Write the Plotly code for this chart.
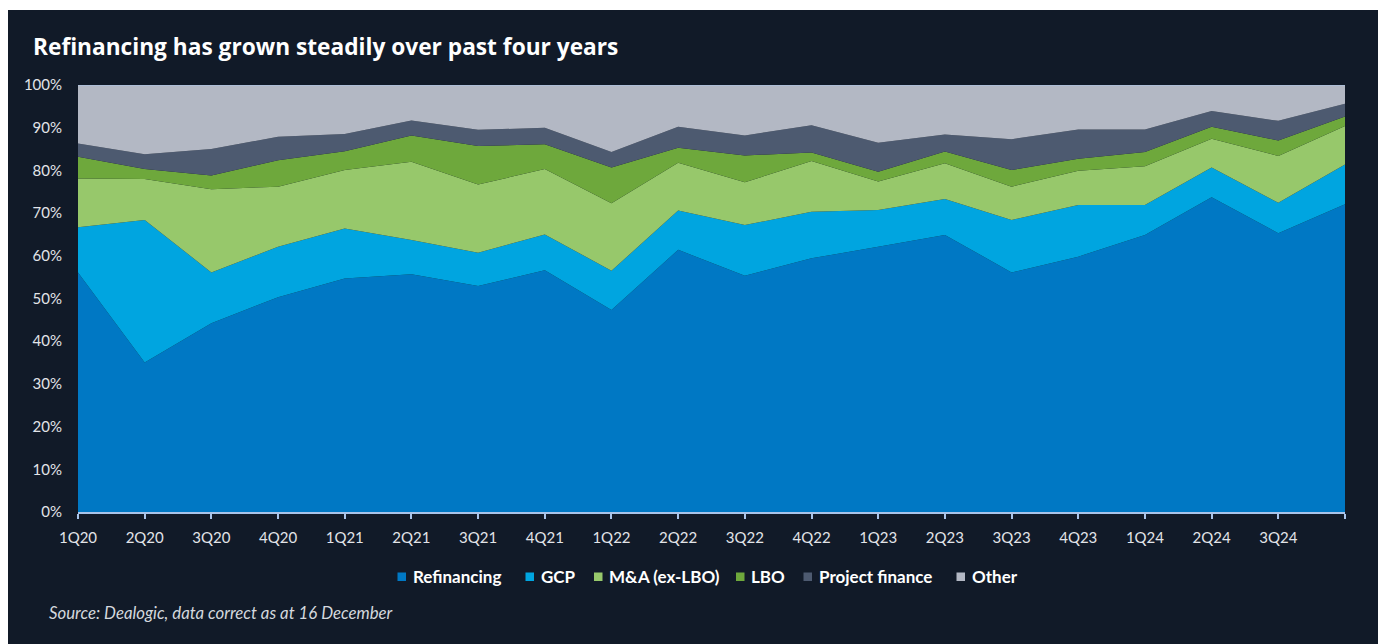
import plotly.graph_objects as go

# Quarterly share of loan volume by use of proceeds (%)
quarters = ["1Q20", "2Q20", "3Q20", "4Q20", "1Q21", "2Q21", "3Q21", "4Q21",
            "1Q22", "2Q22", "3Q22", "4Q22", "1Q23", "2Q23", "3Q23", "4Q23",
            "1Q24", "2Q24", "3Q24", "4Q24"]
tick_labels = quarters[:-1] + [""]
y_ticks = list(range(0, 101, 10))
y_tick_labels = [f"{v}%" for v in y_ticks]

refinancing = [56.1, 35.0, 44.2, 50.3, 54.7, 55.7, 52.9, 56.6, 47.3, 61.4,
               55.3, 59.4, 62.1, 64.9, 56.1, 59.8, 64.9, 73.7, 65.3, 72.1]
gcp = [10.6, 33.4, 11.9, 11.8, 11.7, 8.0, 7.8, 8.4, 9.2, 9.2,
       11.9, 10.9, 8.6, 8.4, 12.3, 12.1, 7.0, 7.0, 7.1, 9.3]
mna_ex_lbo = [11.4, 9.6, 19.5, 14.1, 13.7, 18.3, 16.0, 15.3, 15.8, 11.2,
              10.0, 11.9, 6.7, 8.4, 7.8, 8.0, 9.1, 6.7, 11.0, 9.0]
lbo = [5.1, 2.3, 3.2, 6.2, 4.4, 6.2, 9.0, 5.8, 8.4, 3.5,
       6.3, 2.0, 2.3, 2.7, 3.9, 2.8, 3.3, 2.8, 3.6, 2.2]
project_finance = [3.1, 3.5, 6.2, 5.5, 4.0, 3.5, 3.8, 3.9, 3.6, 4.9,
                   4.7, 6.4, 6.8, 4.0, 7.2, 6.9, 5.3, 3.7, 4.6, 3.0]
other = [13.7, 16.2, 15.0, 12.1, 11.5, 8.3, 10.5, 10.0, 15.7, 9.8,
         11.8, 9.4, 13.5, 11.6, 12.7, 10.4, 10.4, 6.1, 8.4, 4.4]

series = [
    ("Refinancing", refinancing, "#0078c4"),
    ("GCP", gcp, "#00a5e0"),
    ("M&A (ex-LBO)", mna_ex_lbo, "#97c86b"),
    ("LBO", lbo, "#6ea83c"),
    ("Project finance", project_finance, "#4d5a70"),
    ("Other", other, "#b3b8c4"),
]

BG = "#111a28"
AXIS = "#a9c4ea"
FONT = "Lato"

# plot-area geometry in pixels, used to place the decorations in paper units
PL, PR, PT, PB = 78, 33, 85, 132
PW, PH = 1378 - PL - PR, 644 - PT - PB


def px_x(px):
    return (px - PL) / PW


def px_y(py):
    return (644 - PB - py) / PH


fig = go.Figure()
for name, values, color in series:
    top = name == "Other"
    fig.add_trace(go.Scatter(
        x=quarters, y=values, name=name, mode="lines",
        stackgroup="share", fillcolor=color,
        line=dict(width=1 if top else 0, color=AXIS if top else color),
        showlegend=False, hoverinfo="x+y+name",
    ))

# dark card behind the whole chart
fig.add_shape(type="rect", xref="paper", yref="paper",
              x0=px_x(8), x1=px_x(1400), y0=px_y(700), y1=px_y(10),
              fillcolor=BG, line=dict(width=0), layer="below")

fig.add_annotation(text="<b>Refinancing has grown steadily over past four years</b>",
                   xref="paper", yref="paper", x=px_x(31), y=px_y(47),
                   xanchor="left", yanchor="middle", showarrow=False,
                   font=dict(family="Open Sans", size=22.7, color="#ffffff"))

fig.add_annotation(text="<i>Source: Dealogic, data correct as at 16 December</i>",
                   xref="paper", yref="paper", x=px_x(47), y=px_y(612),
                   xanchor="left", yanchor="middle", showarrow=False,
                   font=dict(family=FONT, size=16.8, color="#d4d8de"))

# legend row: coloured square followed by the series name
legend_x = [397.5, 525.5, 594, 736, 803.5, 956.5]
for (name, _, color), px in zip(series, legend_x):
    fig.add_shape(type="rect", xref="paper", yref="paper",
                  x0=px_x(px), x1=px_x(px + 8.5),
                  y0=px_y(581), y1=px_y(572.5),
                  fillcolor=color, line=dict(width=0))
    fig.add_annotation(text=f"<b>{name}</b>", xref="paper", yref="paper",
                       x=px_x(px + 13), y=px_y(576),
                       xanchor="left", yanchor="middle", showarrow=False,
                       font=dict(family=FONT, size=17, color="#ffffff"))

fig.update_layout(
    width=1378, height=644,
    margin=dict(l=PL, r=PR, t=PT, b=PB),
    paper_bgcolor="#ffffff", plot_bgcolor=BG,
    showlegend=False,
    font=dict(family=FONT, size=15, color="#e2e4e8"),
    xaxis=dict(
        type="category", range=[0, 19],
        tickmode="array", tickvals=quarters, ticktext=tick_labels,
        showgrid=False, zeroline=False,
        showline=True, linecolor=AXIS, linewidth=2,
        ticks="outside", ticklen=5, tickwidth=2, tickcolor=AXIS,
        ticklabelstandoff=6,
        tickfont=dict(family=FONT, size=15, color="#e2e4e8"),
    ),
    yaxis=dict(
        range=[0, 100], tickmode="array",
        tickvals=y_ticks, ticktext=y_tick_labels,
        showgrid=False, zeroline=False, showline=False, ticks="",
        ticklabelstandoff=15,
        tickfont=dict(family=FONT, size=15, color="#e2e4e8"),
    ),
)

fig.write_html("out.html")
